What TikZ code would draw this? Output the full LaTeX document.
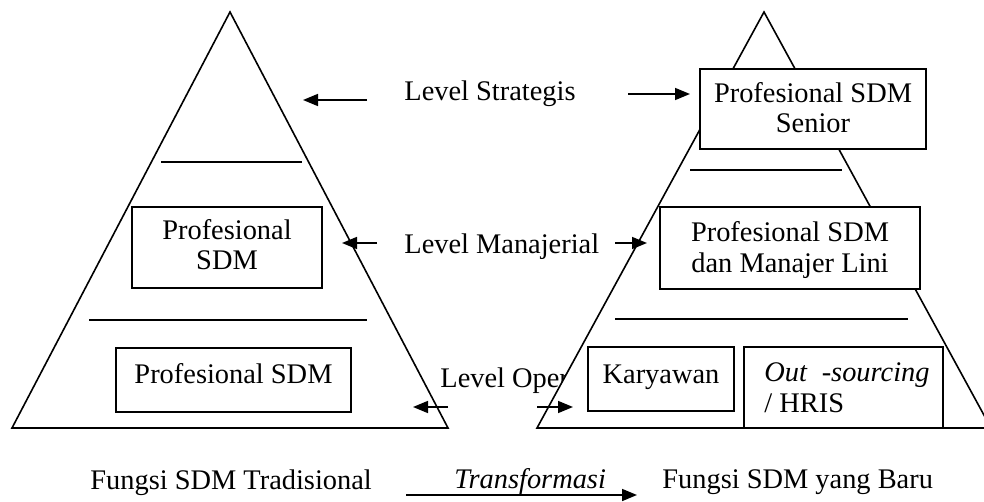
\documentclass[tikz,border=0pt]{standalone}
\usepackage{fontspec}
\setmainfont{Liberation Serif}
\usetikzlibrary{arrows.meta}
\tikzset{
  ln/.style={line width=0.8pt, black},
  arr/.style={line width=0.8pt, -{Triangle[length=7.5pt,width=6pt]}},
  boxnode/.style={draw, line width=0.9pt, fill=white, inner sep=0pt, rectangle},
  txt/.style={inner sep=0pt, font=\fontsize{14.2pt}{15.3pt}\selectfont},
}
\begin{document}
\begin{tikzpicture}[x=0.5pt, y=-0.5pt]
\fill[white] (0,0) rectangle (984,502);
\useasboundingbox (0,0) rectangle (984,502);

% left pyramid
\draw[ln, line join=miter] (230,12) -- (12,428) -- (448,428) -- cycle;
\draw[ln] (161,162) -- (302,162);
\draw[ln] (89,320) -- (367,320);

% text partly hidden by right pyramid
\node[txt, anchor=base west] (lvlO) at (440,387) {Level Oper};

% right pyramid
\draw[ln, fill=white, line join=miter] (764,12) -- (537,428) -- (991,428) -- cycle;
\draw[ln] (690,170) -- (842,170);
\draw[ln] (615,319) -- (908,319);

% boxes
\node[boxnode, minimum width=95pt, minimum height=40.5pt] (bL1) at (227,247.5) {};
\node[boxnode, minimum width=117.5pt, minimum height=32pt] (bL2) at (233.5,380) {};
\node[boxnode, minimum width=113pt, minimum height=40pt] (bR1) at (813,109) {};
\node[boxnode, minimum width=130pt, minimum height=41pt] (bR2) at (790,248) {};
\node[boxnode, minimum width=73pt, minimum height=32pt] (bR3) at (661,379) {};
\node[boxnode, minimum width=99.5pt, minimum height=40.5pt] (bR4) at (843.5,387.5) {};

% box texts
\node[txt, anchor=base] (tL1a) at (227,240) {Profesional};
\node[txt, anchor=base] (tL1b) at (227,270) {SDM};
\node[txt, anchor=base] (tL2) at (233.5,383) {Profesional SDM};
\node[txt, anchor=base] (tR1a) at (813,103) {Profesional SDM};
\node[txt, anchor=base] (tR1b) at (813,133) {Senior};
\node[txt, anchor=base] (tR2a) at (790,242) {Profesional SDM};
\node[txt, anchor=base] (tR2b) at (790,272) {dan Manajer Lini};
\node[txt, anchor=base] (tR3) at (661,383) {Karyawan};
\node[txt, anchor=base west] (tR4a) at (764,381) {\textit{Out}\ \ \textit{-sourcing}};
\node[txt, anchor=base west] (tR4b) at (764,412) {/ HRIS};

% level labels
\node[txt, anchor=base west] (lvlS) at (404,101) {Level Strategis};
\node[txt, anchor=base west] (lvlM) at (404,253) {Level Manajerial};

% bottom labels
\node[txt, anchor=base west] (capL) at (90,489) {Fungsi SDM Tradisional};
\node[txt, anchor=base west] (capT) at (454,488) {\textit{Transformasi}};
\node[txt, anchor=base west] (capR) at (662,488) {Fungsi SDM yang Baru};

% arrow end points
\coordinate (aLSs) at (367,100); \coordinate (aLSe) at (303,100);
\coordinate (aRSs) at (628,94);  \coordinate (aRSe) at (690,94);
\coordinate (aLMs) at (377,243); \coordinate (aLMe) at (342,243);
\coordinate (aRMs) at (615,243); \coordinate (aRMe) at (647,243);
\coordinate (aLOs) at (448,407); \coordinate (aLOe) at (413,407);
\coordinate (aROs) at (537,407); \coordinate (aROe) at (573,407);
\coordinate (aTs) at (406,495);  \coordinate (aTe) at (637,495);

\draw[arr] (aLSs) -- (aLSe);
\draw[arr] (aRSs) -- (aRSe);
\draw[arr] (aLMs) -- (aLMe);
\draw[arr] (aRMs) -- (aRMe);
\draw[arr] (aLOs) -- (aLOe);
\draw[arr] (aROs) -- (aROe);
\draw[arr] (aTs) -- (aTe);
\end{tikzpicture}
\end{document}
